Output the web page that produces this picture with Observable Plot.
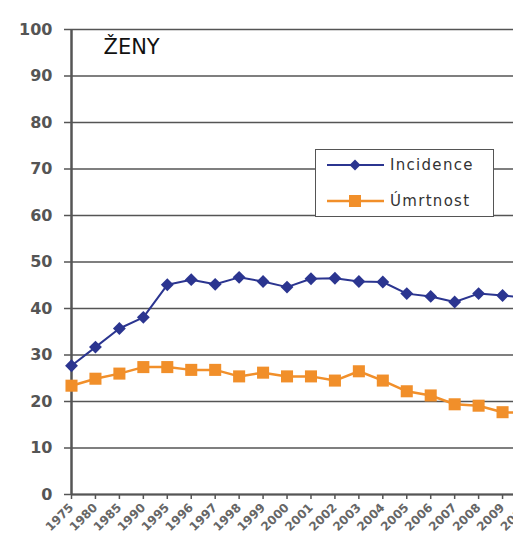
<!DOCTYPE html>
<html>
<head>
<meta charset="utf-8">
<script src="https://cdn.jsdelivr.net/npm/d3@7"></script>
<script src="https://cdn.jsdelivr.net/npm/@observablehq/plot@0.6"></script>
<style>
  html, body { margin: 0; padding: 0; background: #fff; overflow: hidden; }
  #wrap { position: relative; width: 513px; height: 536px; overflow: hidden; }
  #legend {
    position: absolute; left: 315px; top: 149px; width: 177px; height: 66px;
    border: 1.5px solid #555; background: #fff; font-family: "DejaVu Sans", sans-serif;
    font-size: 15px; color: #333; letter-spacing: 1.3px;
  }
  .row { position: absolute; left: 10px; display: flex; align-items: center; }
  .row svg { margin-right: 4px; }
</style>
</head>
<body>
<div id="wrap"></div>
<script>
const years = ["1975","1980","1985","1990","1995","1996","1997","1998","1999","2000","2001","2002","2003","2004","2005","2006","2007","2008","2009","2010"];
const incidence = [27.7, 31.7, 35.7, 38.1, 45.1, 46.2, 45.2, 46.7, 45.8, 44.6, 46.4, 46.5, 45.8, 45.7, 43.2, 42.6, 41.4, 43.2, 42.8, 42.3];
const umrtnost = [23.4, 24.9, 26.0, 27.4, 27.4, 26.8, 26.8, 25.4, 26.2, 25.4, 25.4, 24.5, 26.5, 24.5, 22.2, 21.3, 19.4, 19.1, 17.7, 17.5];
const yTicks = [0, 10, 20, 30, 40, 50, 60, 70, 80, 90, 100];
const seriesNames = ["Incidence", "Úmrtnost"];
const colors = ["#2b3590", "#f18f2a"];
const title = "ŽENY";

const incData = years.map((y, i) => ({year: y, value: incidence[i]}));
const umrData = years.map((y, i) => ({year: y, value: umrtnost[i]}));

const chart = Plot.plot({
  width: 513,
  height: 536,
  marginLeft: 71,
  marginRight: -13,
  marginTop: 29,
  marginBottom: 42,
  style: {background: "#fff", fontFamily: "DejaVu Sans, sans-serif"},
  x: {type: "point", domain: years, padding: 0, round: false},
  y: {domain: [0, 100]},
  marks: [
    Plot.gridY(yTicks, {stroke: "#555", strokeOpacity: 1, strokeWidth: 1.5}),
    Plot.axisY(yTicks, {tickSize: 7, tickPadding: 12, fontSize: 16, fontWeight: "bold", fill: "#555", stroke: "#555", strokeWidth: 1.5, label: null}),
    Plot.axisX({tickRotate: -45, tickSize: 5, tickPadding: 6, fontSize: 12, fontWeight: "bold", fill: "#666", stroke: "#555", strokeWidth: 1.5, label: null}),
    Plot.ruleX([years[0]], {stroke: "#555", strokeWidth: 2.5}),
    Plot.ruleY([0], {stroke: "#555", strokeWidth: 2}),
    Plot.line(incData, {x: "year", y: "value", stroke: colors[0], strokeWidth: 2}),
    Plot.dot(incData, {x: "year", y: "value", symbol: "diamond2", r: 5.8, fill: colors[0], stroke: "none"}),
    Plot.line(umrData, {x: "year", y: "value", stroke: colors[1], strokeWidth: 2.5}),
    Plot.dot(umrData, {x: "year", y: "value", symbol: "square", r: 6.8, fill: colors[1], stroke: "none"}),
    Plot.text([title], {frameAnchor: "top-left", dx: 32, dy: 10, lineAnchor: "top", textAnchor: "start", fontSize: 21, fill: "#111", fontFamily: "DejaVu Sans, sans-serif"})
  ]
});

const wrap = document.getElementById("wrap");
wrap.appendChild(chart);

const legend = document.createElement("div");
legend.id = "legend";
const rowsTop = [6, 42];
seriesNames.forEach((name, i) => {
  const row = document.createElement("div");
  row.className = "row";
  row.style.top = rowsTop[i] + "px";
  const marker = i === 0
    ? `<path d="M29,1.5 L34.5,7 L29,12.5 L23.5,7 Z" fill="${colors[0]}"/>`
    : `<rect x="23" y="1" width="12" height="12" fill="${colors[1]}"/>`;
  row.innerHTML = `<svg width="60" height="14"><line x1="1" y1="7" x2="58" y2="7" stroke="${colors[i]}" stroke-width="${i === 0 ? 2 : 2.5}"/>${marker}</svg><span>${name}</span>`;
  legend.appendChild(row);
});
wrap.appendChild(legend);
</script>
</body>
</html>
